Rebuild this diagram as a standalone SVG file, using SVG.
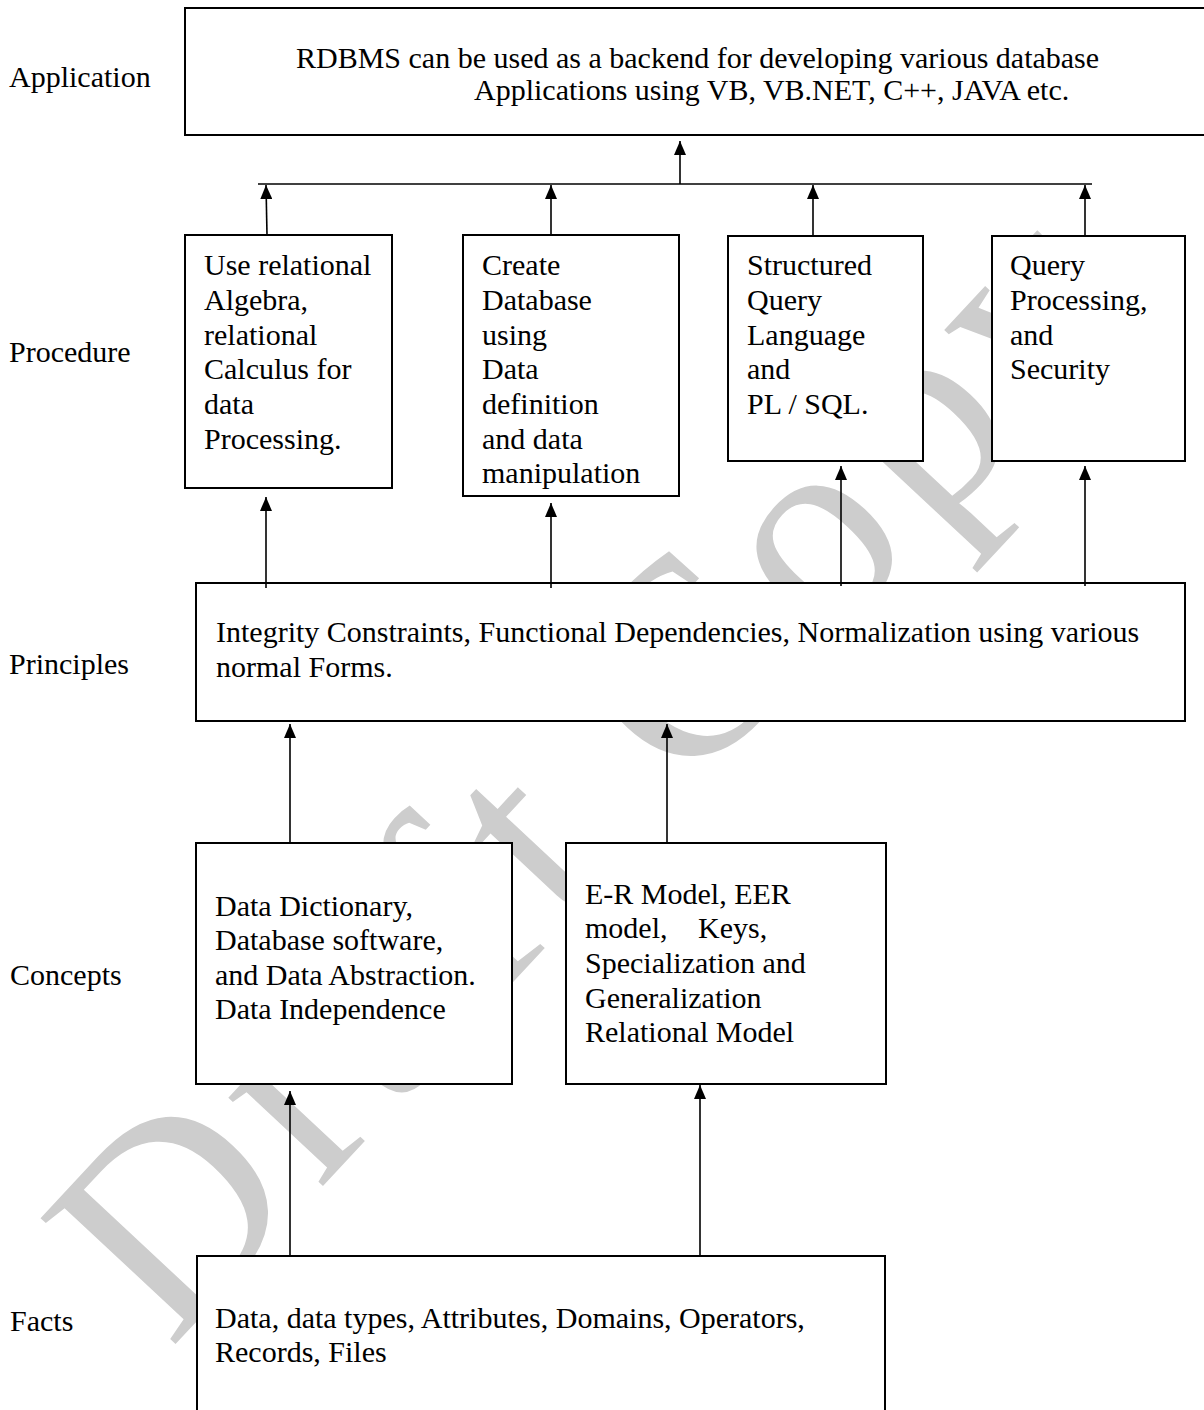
<svg xmlns="http://www.w3.org/2000/svg" width="1204" height="1410" viewBox="0 0 1204 1410">
<style>
text{font-family:"Liberation Serif","Times New Roman",serif;font-size:30px;fill:#000}
.box{fill:#fff;stroke:#000;stroke-width:2}
.wire{fill:none;stroke:#000;stroke-width:1.6}
.wm{font-family:"Liberation Serif","Times New Roman",serif;font-size:282px;letter-spacing:15px;fill:#cdcdcd}
</style>
<defs>
<marker id="ah" markerUnits="userSpaceOnUse" markerWidth="14" markerHeight="12" refX="14" refY="6" orient="auto">
<path d="M0,0 L14,6 L0,12 Z" fill="#000"/>
</marker>
</defs>
<rect x="0" y="0" width="1204" height="1410" fill="#fff"/>
<g id="watermark">
<text class="wm" transform="translate(170,1350) rotate(-47)">Draft Copy</text>
</g>
<g id="levels">
<text x="9" y="87">Application</text>
<text x="9" y="362">Procedure</text>
<text x="9" y="674">Principles</text>
<text x="10" y="985">Concepts</text>
<text x="10" y="1331">Facts</text>
</g>
<g id="app">
<rect class="box" x="185" y="8" width="1040" height="127"/>
<text x="296" y="68">RDBMS can be used as a backend for developing various database</text>
<text x="474" y="100">Applications using VB, VB.NET, C++, JAVA etc.</text>
</g>
<g id="proc1">
<rect class="box" x="185" y="235" width="207" height="253"/>
<text x="204"><tspan x="204" y="275">Use relational</tspan><tspan x="204" y="310">Algebra,</tspan><tspan x="204" y="345">relational</tspan><tspan x="204" y="379">Calculus for</tspan><tspan x="204" y="414">data</tspan><tspan x="204" y="449">Processing.</tspan></text>
</g>
<g id="proc2">
<rect class="box" x="463" y="235" width="216" height="261"/>
<text x="482"><tspan x="482" y="275">Create</tspan><tspan x="482" y="310">Database</tspan><tspan x="482" y="345">using</tspan><tspan x="482" y="379">Data</tspan><tspan x="482" y="414">definition</tspan><tspan x="482" y="449">and data</tspan><tspan x="482" y="483">manipulation</tspan></text>
</g>
<g id="proc3">
<rect class="box" x="728" y="236" width="195" height="225"/>
<text x="747"><tspan x="747" y="275">Structured</tspan><tspan x="747" y="310">Query</tspan><tspan x="747" y="345">Language</tspan><tspan x="747" y="379">and</tspan><tspan x="747" y="414">PL / SQL.</tspan></text>
</g>
<g id="proc4">
<rect class="box" x="992" y="236" width="193" height="225"/>
<text x="1010"><tspan x="1010" y="275">Query</tspan><tspan x="1010" y="310">Processing,</tspan><tspan x="1010" y="345">and</tspan><tspan x="1010" y="379">Security</tspan></text>
</g>
<g id="principles">
<rect class="box" x="196" y="583" width="989" height="138"/>
<text x="216"><tspan x="216" y="642">Integrity Constraints, Functional Dependencies, Normalization using various</tspan><tspan x="216" y="677">normal Forms.</tspan></text>
</g>
<g id="concepts1">
<rect class="box" x="196" y="843" width="316" height="241"/>
<text x="215"><tspan x="215" y="916">Data Dictionary,</tspan><tspan x="215" y="950">Database software,</tspan><tspan x="215" y="985">and Data Abstraction.</tspan><tspan x="215" y="1019">Data Independence</tspan></text>
</g>
<g id="concepts2">
<rect class="box" x="566" y="843" width="320" height="241"/>
<text x="585"><tspan x="585" y="904">E-R Model, EER</tspan><tspan x="585" y="938">model,</tspan><tspan x="698" y="938">Keys,</tspan><tspan x="585" y="973">Specialization and</tspan><tspan x="585" y="1008">Generalization</tspan><tspan x="585" y="1042">Relational Model</tspan></text>
</g>
<g id="facts">
<rect class="box" x="197" y="1256" width="688" height="170"/>
<text x="215"><tspan x="215" y="1328">Data, data types, Attributes, Domains, Operators,</tspan><tspan x="215" y="1362">Records, Files</tspan></text>
</g>
<g id="connectors">
<line class="wire" x1="258" y1="184" x2="1092" y2="184"/>
<line class="wire" x1="680" y1="184" x2="680" y2="141" marker-end="url(#ah)"/>
<line class="wire" x1="267" y1="235" x2="266" y2="185" marker-end="url(#ah)"/>
<line class="wire" x1="551" y1="235" x2="551" y2="185" marker-end="url(#ah)"/>
<line class="wire" x1="813" y1="236" x2="813" y2="185" marker-end="url(#ah)"/>
<line class="wire" x1="1085" y1="236" x2="1085" y2="185" marker-end="url(#ah)"/>
<line class="wire" x1="266" y1="588" x2="266" y2="497" marker-end="url(#ah)"/>
<line class="wire" x1="551" y1="588" x2="551" y2="503" marker-end="url(#ah)"/>
<line class="wire" x1="841" y1="586" x2="841" y2="466" marker-end="url(#ah)"/>
<line class="wire" x1="1085" y1="586" x2="1085" y2="466" marker-end="url(#ah)"/>
<line class="wire" x1="290" y1="843" x2="290" y2="724" marker-end="url(#ah)"/>
<line class="wire" x1="667" y1="843" x2="667" y2="724" marker-end="url(#ah)"/>
<line class="wire" x1="290" y1="1256" x2="290" y2="1091" marker-end="url(#ah)"/>
<line class="wire" x1="700" y1="1256" x2="700" y2="1085" marker-end="url(#ah)"/>
</g>
</svg>
